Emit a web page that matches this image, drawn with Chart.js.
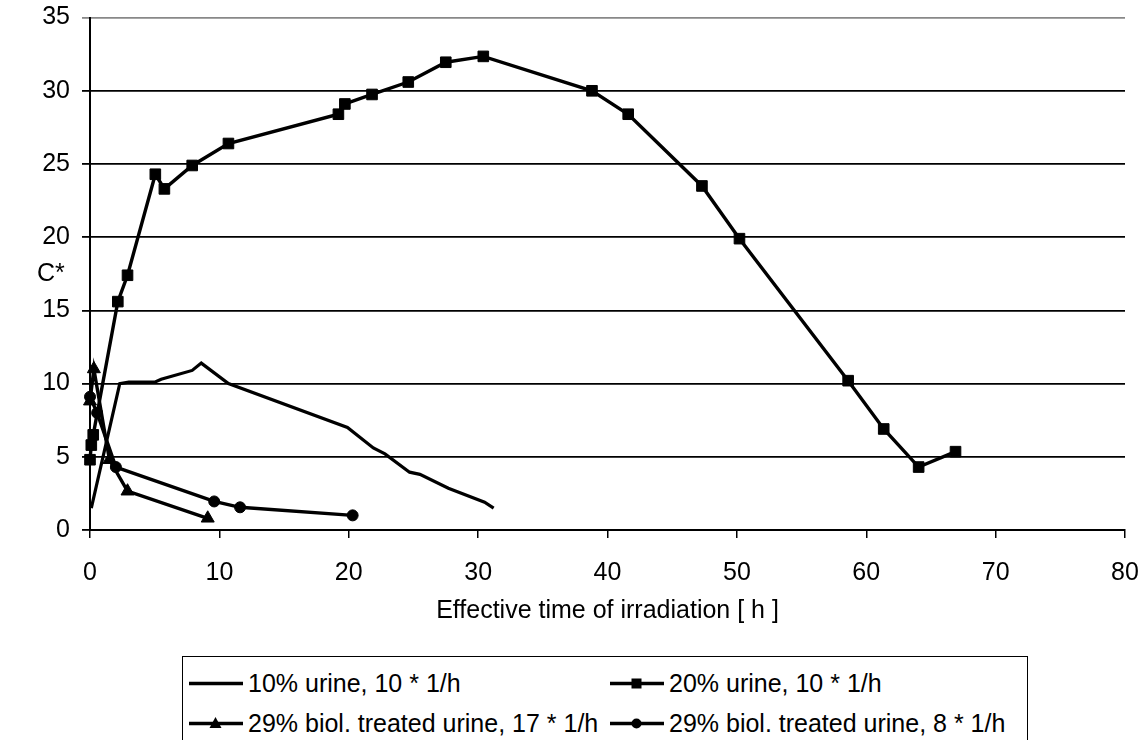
<!DOCTYPE html>
<html>
<head>
<meta charset="utf-8">
<script src="https://cdn.jsdelivr.net/npm/chart.js@4.4.1/dist/chart.umd.min.js"></script>
<style>
  html, body { margin: 0; padding: 0; background: #fff; }
  body { width: 1144px; height: 740px; position: relative; overflow: hidden; font-family: "Liberation Sans", Arial, sans-serif; }
  #wrap { position: absolute; left: 0; top: 0; width: 1144px; height: 640px; }
  #ytitle { position: absolute; left: 37px; top: 257px; font-size: 25px; color: #000; line-height: 30px; }
  #legend { position: absolute; left: 182px; top: 656px; width: 846px; height: 90px; border: 1.5px solid #000; box-sizing: border-box; }
  .item { position: absolute; display: flex; align-items: center; height: 30px; font-size: 25px; color: #000; white-space: nowrap; }
  .item svg { display: block; margin-right: 5px; }
</style>
</head>
<body>
<div id="wrap"><canvas id="c" width="1144" height="640"></canvas></div>
<div id="ytitle">C*</div>
<div id="legend"></div>
<script>
// ---- data ----
const seriesNames = [
  "10% urine, 10 * 1/h",
  "20% urine, 10 * 1/h",
  "29% biol. treated urine, 17 * 1/h",
  "29% biol. treated urine, 8 * 1/h"
];
const s1X = [0.1, 2.3, 3.0, 5.0, 5.5, 7.9, 8.6, 10.7, 19.9, 21.9, 22.8, 24.7, 25.5, 27.7, 30.5, 31.2];
const s1Y = [1.5, 10.0, 10.1, 10.1, 10.3, 10.9, 11.4, 10.0, 7.0, 5.6, 5.2, 3.95, 3.8, 2.85, 1.9, 1.5];
const s2X = [0, 0.1, 0.25, 2.15, 2.9, 5.05, 5.75, 7.9, 10.7, 19.2, 19.7, 21.8, 24.6, 27.5, 30.4, 38.8, 41.6, 47.3, 50.2, 58.6, 61.35, 64.05, 66.9];
const s2Y = [4.8, 5.8, 6.5, 15.6, 17.4, 24.3, 23.3, 24.9, 26.4, 28.4, 29.1, 29.75, 30.6, 31.95, 32.35, 30.0, 28.4, 23.5, 19.9, 10.2, 6.9, 4.3, 5.35];
const s3X = [0, 0.3, 1.5, 2.9, 9.1];
const s3Y = [8.8, 11.0, 4.8, 2.65, 0.8];
const s4X = [0, 0.55, 2.0, 9.6, 11.6, 20.3];
const s4Y = [9.1, 8.0, 4.3, 1.95, 1.55, 1.0];
const xTicks = [0, 10, 20, 30, 40, 50, 60, 70, 80];
const yTicks = [0, 5, 10, 15, 20, 25, 30, 35];

const pts = (xs, ys) => xs.map((x, i) => ({ x: x, y: ys[i] }));
const FONT = { family: "'Liberation Sans', Arial, sans-serif", size: 25 };

const datasets = [
  { label: seriesNames[0], data: pts(s1X, s1Y), borderColor: '#000', backgroundColor: '#000', borderWidth: 3.2, pointRadius: 0, pointStyle: false },
  { label: seriesNames[1], data: pts(s2X, s2Y), borderColor: '#000', backgroundColor: '#000', borderWidth: 3.4, pointRadius: 7.5, pointBorderWidth: 1, pointStyle: 'rect' },
  { label: seriesNames[2], data: pts(s3X, s3Y), borderColor: '#000', backgroundColor: '#000', borderWidth: 3.4, pointRadius: 7.5, pointBorderWidth: 1, pointStyle: 'triangle' },
  { label: seriesNames[3], data: pts(s4X, s4Y), borderColor: '#000', backgroundColor: '#000', borderWidth: 3.4, pointRadius: 5.5, pointBorderWidth: 1, pointStyle: 'circle' }
];
datasets.forEach(d => { d.showLine = true; d.tension = 0; d.pointHoverRadius = d.pointRadius; d.clip = false; });

new Chart(document.getElementById('c'), {
  type: 'scatter',
  data: { datasets: datasets },
  options: {
    responsive: false,
    animation: false,
    events: [],
    layout: { padding: { left: 0, right: 19, top: 17.6, bottom: 0 } },
    plugins: { legend: { display: false }, tooltip: { enabled: false } },
    scales: {
      x: {
        type: 'linear', min: 0, max: 80,
        afterBuildTicks: s => { s.ticks = xTicks.map(v => ({ value: v })); },
        afterFit: s => { s.height = 110; s.paddingLeft = 0; s.paddingRight = 0; },
        border: { display: true, color: '#000', width: 2 },
        grid: { display: true, drawOnChartArea: false, drawTicks: true, tickLength: 8, color: '#000', lineWidth: 1.5 },
        ticks: { color: '#000', font: FONT, padding: 20, maxRotation: 0 },
        title: { display: true, text: 'Effective time of irradiation [ h ]', color: '#000', font: FONT, padding: { top: 0, bottom: 14 } }
      },
      y: {
        type: 'linear', min: 0, max: 35,
        afterBuildTicks: s => { s.ticks = yTicks.map(v => ({ value: v })); },
        afterFit: s => { s.width = 90; s.paddingTop = 0; s.paddingBottom = 0; },
        border: { display: true, color: '#000', width: 2 },
        grid: { display: true, drawOnChartArea: true, drawTicks: true, tickLength: 8, lineWidth: 1.8,
                color: ctx => (ctx.tick && ctx.tick.value === 35) ? '#888' : '#000' },
        ticks: { color: '#000', font: FONT, padding: 12 }
      }
    }
  }
});

// ---- HTML legend ----
const legendPos = [
  { left: 6, top: 11 }, { left: 427, top: 11 },
  { left: 6, top: 51 }, { left: 427, top: 51 }
];
const markerSvg = (kind) => {
  let m = '';
  if (kind === 1) m = '<rect x="21.5" y="5.5" width="10" height="10" fill="#000"/>';
  if (kind === 2) m = '<polygon points="26.5,4 32.5,15 20.5,15" fill="#000"/>';
  if (kind === 3) m = '<circle cx="26.5" cy="10.5" r="5" fill="#000"/>';
  return '<svg width="54" height="21" viewBox="0 0 54 21"><line x1="0" y1="10.5" x2="54" y2="10.5" stroke="#000" stroke-width="3.4"/>' + m + '</svg>';
};
const leg = document.getElementById('legend');
seriesNames.forEach((name, i) => {
  const d = document.createElement('div');
  d.className = 'item';
  d.style.left = legendPos[i].left + 'px';
  d.style.top = legendPos[i].top + 'px';
  d.innerHTML = markerSvg(i) + '<span>' + name + '</span>';
  leg.appendChild(d);
});
</script>
</body>
</html>
